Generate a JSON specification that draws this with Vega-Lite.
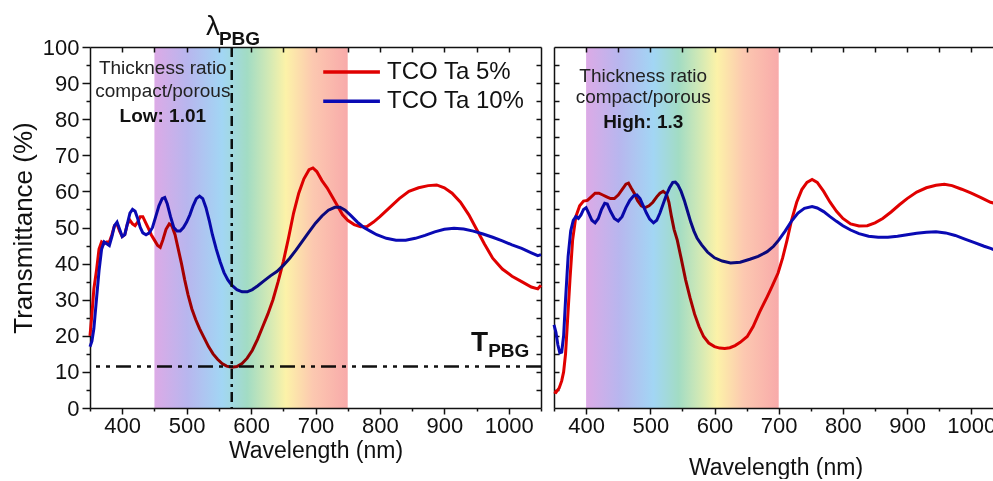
{
  "$schema": "https://vega.github.io/schema/vega-lite/v6.json",
  "background": "white",
  "padding": {"left": 10, "top": 13, "right": 0, "bottom": 0},
  "config": {
    "font": "Liberation Sans",
    "view": {"stroke": null},
    "axis": {"grid": false, "domainColor": "#111", "domainWidth": 1.5, "tickColor": "#111", "tickWidth": 1.5, "labelColor": "#111", "labelFont": "Liberation Sans", "labelFontSize": 22, "labelFlush": false, "labelOverlap": false, "titleColor": "#111", "titleFont": "Liberation Sans", "titleFontWeight": "normal"}
  },
  "datasets": {
    "low": [
      {"wl":350,"T":20,"s":"TCO Ta 5%"},{"wl":353,"T":26,"s":"TCO Ta 5%"},{"wl":356,"T":33,"s":"TCO Ta 5%"},{"wl":360,"T":38,"s":"TCO Ta 5%"},{"wl":364,"T":44,"s":"TCO Ta 5%"},{"wl":368,"T":46,"s":"TCO Ta 5%"},{"wl":372,"T":45.5,"s":"TCO Ta 5%"},{"wl":376,"T":46,"s":"TCO Ta 5%"},{"wl":380,"T":46,"s":"TCO Ta 5%"},{"wl":384,"T":48,"s":"TCO Ta 5%"},{"wl":388,"T":50.5,"s":"TCO Ta 5%"},{"wl":392,"T":51,"s":"TCO Ta 5%"},{"wl":396,"T":49,"s":"TCO Ta 5%"},{"wl":400,"T":47.5,"s":"TCO Ta 5%"},{"wl":404,"T":48,"s":"TCO Ta 5%"},{"wl":408,"T":51,"s":"TCO Ta 5%"},{"wl":412,"T":52,"s":"TCO Ta 5%"},{"wl":416,"T":51,"s":"TCO Ta 5%"},{"wl":420,"T":50.5,"s":"TCO Ta 5%"},{"wl":424,"T":51.5,"s":"TCO Ta 5%"},{"wl":428,"T":53,"s":"TCO Ta 5%"},{"wl":432,"T":53,"s":"TCO Ta 5%"},{"wl":436,"T":51.5,"s":"TCO Ta 5%"},{"wl":440,"T":50,"s":"TCO Ta 5%"},{"wl":445,"T":48,"s":"TCO Ta 5%"},{"wl":450,"T":46.5,"s":"TCO Ta 5%"},{"wl":455,"T":45,"s":"TCO Ta 5%"},{"wl":459,"T":44.5,"s":"TCO Ta 5%"},{"wl":463,"T":46.5,"s":"TCO Ta 5%"},{"wl":468,"T":49.5,"s":"TCO Ta 5%"},{"wl":473,"T":51,"s":"TCO Ta 5%"},{"wl":477,"T":50.5,"s":"TCO Ta 5%"},{"wl":482,"T":48,"s":"TCO Ta 5%"},{"wl":487,"T":44,"s":"TCO Ta 5%"},{"wl":492,"T":40,"s":"TCO Ta 5%"},{"wl":497,"T":35.5,"s":"TCO Ta 5%"},{"wl":502,"T":31.5,"s":"TCO Ta 5%"},{"wl":508,"T":27.5,"s":"TCO Ta 5%"},{"wl":514,"T":24.5,"s":"TCO Ta 5%"},{"wl":520,"T":22,"s":"TCO Ta 5%"},{"wl":527,"T":19.5,"s":"TCO Ta 5%"},{"wl":534,"T":17,"s":"TCO Ta 5%"},{"wl":541,"T":15,"s":"TCO Ta 5%"},{"wl":548,"T":13.5,"s":"TCO Ta 5%"},{"wl":555,"T":12.3,"s":"TCO Ta 5%"},{"wl":562,"T":11.6,"s":"TCO Ta 5%"},{"wl":570,"T":11.3,"s":"TCO Ta 5%"},{"wl":578,"T":11.5,"s":"TCO Ta 5%"},{"wl":586,"T":12.3,"s":"TCO Ta 5%"},{"wl":594,"T":13.8,"s":"TCO Ta 5%"},{"wl":602,"T":16,"s":"TCO Ta 5%"},{"wl":610,"T":19,"s":"TCO Ta 5%"},{"wl":618,"T":22.5,"s":"TCO Ta 5%"},{"wl":626,"T":26,"s":"TCO Ta 5%"},{"wl":634,"T":30,"s":"TCO Ta 5%"},{"wl":642,"T":35,"s":"TCO Ta 5%"},{"wl":650,"T":40.5,"s":"TCO Ta 5%"},{"wl":658,"T":47,"s":"TCO Ta 5%"},{"wl":666,"T":54,"s":"TCO Ta 5%"},{"wl":674,"T":59.5,"s":"TCO Ta 5%"},{"wl":682,"T":63.5,"s":"TCO Ta 5%"},{"wl":690,"T":66,"s":"TCO Ta 5%"},{"wl":696,"T":66.5,"s":"TCO Ta 5%"},{"wl":702,"T":65.5,"s":"TCO Ta 5%"},{"wl":710,"T":63,"s":"TCO Ta 5%"},{"wl":718,"T":61,"s":"TCO Ta 5%"},{"wl":726,"T":58.5,"s":"TCO Ta 5%"},{"wl":734,"T":56,"s":"TCO Ta 5%"},{"wl":742,"T":53.5,"s":"TCO Ta 5%"},{"wl":750,"T":52,"s":"TCO Ta 5%"},{"wl":760,"T":50.8,"s":"TCO Ta 5%"},{"wl":770,"T":50.2,"s":"TCO Ta 5%"},{"wl":780,"T":50.3,"s":"TCO Ta 5%"},{"wl":790,"T":51.5,"s":"TCO Ta 5%"},{"wl":800,"T":53,"s":"TCO Ta 5%"},{"wl":815,"T":55.5,"s":"TCO Ta 5%"},{"wl":830,"T":58,"s":"TCO Ta 5%"},{"wl":845,"T":60,"s":"TCO Ta 5%"},{"wl":860,"T":61,"s":"TCO Ta 5%"},{"wl":875,"T":61.6,"s":"TCO Ta 5%"},{"wl":888,"T":61.8,"s":"TCO Ta 5%"},{"wl":900,"T":61,"s":"TCO Ta 5%"},{"wl":912,"T":59.5,"s":"TCO Ta 5%"},{"wl":925,"T":57,"s":"TCO Ta 5%"},{"wl":938,"T":53.5,"s":"TCO Ta 5%"},{"wl":950,"T":49.5,"s":"TCO Ta 5%"},{"wl":962,"T":45.5,"s":"TCO Ta 5%"},{"wl":975,"T":41.5,"s":"TCO Ta 5%"},{"wl":990,"T":38.5,"s":"TCO Ta 5%"},{"wl":1005,"T":36.5,"s":"TCO Ta 5%"},{"wl":1020,"T":35,"s":"TCO Ta 5%"},{"wl":1035,"T":33.5,"s":"TCO Ta 5%"},{"wl":1045,"T":33,"s":"TCO Ta 5%"},{"wl":1050,"T":34,"s":"TCO Ta 5%"},
      {"wl":350,"T":17,"s":"TCO Ta 10%"},{"wl":353,"T":18.5,"s":"TCO Ta 10%"},{"wl":356,"T":22,"s":"TCO Ta 10%"},{"wl":360,"T":30,"s":"TCO Ta 10%"},{"wl":364,"T":38,"s":"TCO Ta 10%"},{"wl":368,"T":44,"s":"TCO Ta 10%"},{"wl":372,"T":46,"s":"TCO Ta 10%"},{"wl":376,"T":45.5,"s":"TCO Ta 10%"},{"wl":380,"T":45,"s":"TCO Ta 10%"},{"wl":384,"T":47.5,"s":"TCO Ta 10%"},{"wl":388,"T":50.5,"s":"TCO Ta 10%"},{"wl":392,"T":51.5,"s":"TCO Ta 10%"},{"wl":396,"T":49.5,"s":"TCO Ta 10%"},{"wl":400,"T":47.5,"s":"TCO Ta 10%"},{"wl":404,"T":48,"s":"TCO Ta 10%"},{"wl":408,"T":51,"s":"TCO Ta 10%"},{"wl":412,"T":54,"s":"TCO Ta 10%"},{"wl":416,"T":55,"s":"TCO Ta 10%"},{"wl":420,"T":54.5,"s":"TCO Ta 10%"},{"wl":424,"T":52.5,"s":"TCO Ta 10%"},{"wl":428,"T":50,"s":"TCO Ta 10%"},{"wl":432,"T":48.5,"s":"TCO Ta 10%"},{"wl":437,"T":48,"s":"TCO Ta 10%"},{"wl":442,"T":48.5,"s":"TCO Ta 10%"},{"wl":447,"T":50,"s":"TCO Ta 10%"},{"wl":452,"T":53,"s":"TCO Ta 10%"},{"wl":457,"T":56,"s":"TCO Ta 10%"},{"wl":462,"T":58,"s":"TCO Ta 10%"},{"wl":466,"T":58.3,"s":"TCO Ta 10%"},{"wl":470,"T":56.5,"s":"TCO Ta 10%"},{"wl":475,"T":53,"s":"TCO Ta 10%"},{"wl":480,"T":50,"s":"TCO Ta 10%"},{"wl":485,"T":49,"s":"TCO Ta 10%"},{"wl":490,"T":49,"s":"TCO Ta 10%"},{"wl":495,"T":50,"s":"TCO Ta 10%"},{"wl":500,"T":51.5,"s":"TCO Ta 10%"},{"wl":505,"T":53.5,"s":"TCO Ta 10%"},{"wl":510,"T":56,"s":"TCO Ta 10%"},{"wl":515,"T":58,"s":"TCO Ta 10%"},{"wl":520,"T":58.7,"s":"TCO Ta 10%"},{"wl":525,"T":58,"s":"TCO Ta 10%"},{"wl":530,"T":55.5,"s":"TCO Ta 10%"},{"wl":535,"T":52,"s":"TCO Ta 10%"},{"wl":540,"T":48,"s":"TCO Ta 10%"},{"wl":546,"T":44,"s":"TCO Ta 10%"},{"wl":552,"T":40.5,"s":"TCO Ta 10%"},{"wl":558,"T":37.5,"s":"TCO Ta 10%"},{"wl":564,"T":35.5,"s":"TCO Ta 10%"},{"wl":570,"T":34,"s":"TCO Ta 10%"},{"wl":578,"T":32.8,"s":"TCO Ta 10%"},{"wl":586,"T":32.2,"s":"TCO Ta 10%"},{"wl":594,"T":32.2,"s":"TCO Ta 10%"},{"wl":602,"T":32.8,"s":"TCO Ta 10%"},{"wl":610,"T":33.8,"s":"TCO Ta 10%"},{"wl":620,"T":35.2,"s":"TCO Ta 10%"},{"wl":630,"T":36.6,"s":"TCO Ta 10%"},{"wl":640,"T":37.8,"s":"TCO Ta 10%"},{"wl":650,"T":39.5,"s":"TCO Ta 10%"},{"wl":660,"T":41.5,"s":"TCO Ta 10%"},{"wl":670,"T":43.8,"s":"TCO Ta 10%"},{"wl":680,"T":46.3,"s":"TCO Ta 10%"},{"wl":690,"T":48.8,"s":"TCO Ta 10%"},{"wl":700,"T":51.2,"s":"TCO Ta 10%"},{"wl":710,"T":53.2,"s":"TCO Ta 10%"},{"wl":720,"T":54.8,"s":"TCO Ta 10%"},{"wl":730,"T":55.6,"s":"TCO Ta 10%"},{"wl":738,"T":55.6,"s":"TCO Ta 10%"},{"wl":746,"T":54.8,"s":"TCO Ta 10%"},{"wl":755,"T":53.3,"s":"TCO Ta 10%"},{"wl":765,"T":51.5,"s":"TCO Ta 10%"},{"wl":775,"T":50,"s":"TCO Ta 10%"},{"wl":785,"T":49,"s":"TCO Ta 10%"},{"wl":795,"T":48,"s":"TCO Ta 10%"},{"wl":810,"T":47,"s":"TCO Ta 10%"},{"wl":825,"T":46.5,"s":"TCO Ta 10%"},{"wl":840,"T":46.5,"s":"TCO Ta 10%"},{"wl":855,"T":47,"s":"TCO Ta 10%"},{"wl":870,"T":47.8,"s":"TCO Ta 10%"},{"wl":885,"T":48.8,"s":"TCO Ta 10%"},{"wl":900,"T":49.5,"s":"TCO Ta 10%"},{"wl":915,"T":49.8,"s":"TCO Ta 10%"},{"wl":930,"T":49.6,"s":"TCO Ta 10%"},{"wl":945,"T":49,"s":"TCO Ta 10%"},{"wl":960,"T":48.2,"s":"TCO Ta 10%"},{"wl":975,"T":47.3,"s":"TCO Ta 10%"},{"wl":990,"T":46.3,"s":"TCO Ta 10%"},{"wl":1005,"T":45.2,"s":"TCO Ta 10%"},{"wl":1020,"T":44.2,"s":"TCO Ta 10%"},{"wl":1035,"T":43,"s":"TCO Ta 10%"},{"wl":1045,"T":42.2,"s":"TCO Ta 10%"},{"wl":1050,"T":42.5,"s":"TCO Ta 10%"}
    ],
    "high": [
      {"wl":350,"T":4.5,"s":"TCO Ta 5%"},{"wl":353,"T":4.3,"s":"TCO Ta 5%"},{"wl":358,"T":5.5,"s":"TCO Ta 5%"},{"wl":362,"T":7.5,"s":"TCO Ta 5%"},{"wl":365,"T":10,"s":"TCO Ta 5%"},{"wl":368,"T":15,"s":"TCO Ta 5%"},{"wl":371,"T":24,"s":"TCO Ta 5%"},{"wl":375,"T":36,"s":"TCO Ta 5%"},{"wl":379,"T":46.5,"s":"TCO Ta 5%"},{"wl":384,"T":53,"s":"TCO Ta 5%"},{"wl":390,"T":56,"s":"TCO Ta 5%"},{"wl":396,"T":57.3,"s":"TCO Ta 5%"},{"wl":402,"T":57.5,"s":"TCO Ta 5%"},{"wl":408,"T":58.5,"s":"TCO Ta 5%"},{"wl":414,"T":59.5,"s":"TCO Ta 5%"},{"wl":420,"T":59.5,"s":"TCO Ta 5%"},{"wl":426,"T":59,"s":"TCO Ta 5%"},{"wl":432,"T":58.5,"s":"TCO Ta 5%"},{"wl":438,"T":58,"s":"TCO Ta 5%"},{"wl":444,"T":58,"s":"TCO Ta 5%"},{"wl":450,"T":59,"s":"TCO Ta 5%"},{"wl":456,"T":60.5,"s":"TCO Ta 5%"},{"wl":462,"T":62,"s":"TCO Ta 5%"},{"wl":466,"T":62.3,"s":"TCO Ta 5%"},{"wl":470,"T":61,"s":"TCO Ta 5%"},{"wl":475,"T":59.5,"s":"TCO Ta 5%"},{"wl":480,"T":57.5,"s":"TCO Ta 5%"},{"wl":486,"T":56,"s":"TCO Ta 5%"},{"wl":492,"T":55.5,"s":"TCO Ta 5%"},{"wl":498,"T":56,"s":"TCO Ta 5%"},{"wl":504,"T":57,"s":"TCO Ta 5%"},{"wl":510,"T":58.5,"s":"TCO Ta 5%"},{"wl":515,"T":59.5,"s":"TCO Ta 5%"},{"wl":520,"T":60,"s":"TCO Ta 5%"},{"wl":525,"T":59.3,"s":"TCO Ta 5%"},{"wl":529,"T":57,"s":"TCO Ta 5%"},{"wl":533,"T":53,"s":"TCO Ta 5%"},{"wl":537,"T":49.5,"s":"TCO Ta 5%"},{"wl":542,"T":46.5,"s":"TCO Ta 5%"},{"wl":548,"T":41.5,"s":"TCO Ta 5%"},{"wl":555,"T":35.5,"s":"TCO Ta 5%"},{"wl":562,"T":30.5,"s":"TCO Ta 5%"},{"wl":569,"T":26,"s":"TCO Ta 5%"},{"wl":576,"T":22.5,"s":"TCO Ta 5%"},{"wl":583,"T":19.8,"s":"TCO Ta 5%"},{"wl":591,"T":18,"s":"TCO Ta 5%"},{"wl":600,"T":17,"s":"TCO Ta 5%"},{"wl":608,"T":16.6,"s":"TCO Ta 5%"},{"wl":616,"T":16.5,"s":"TCO Ta 5%"},{"wl":624,"T":16.7,"s":"TCO Ta 5%"},{"wl":632,"T":17.3,"s":"TCO Ta 5%"},{"wl":640,"T":18.2,"s":"TCO Ta 5%"},{"wl":651,"T":19.8,"s":"TCO Ta 5%"},{"wl":660,"T":22.5,"s":"TCO Ta 5%"},{"wl":670,"T":26.5,"s":"TCO Ta 5%"},{"wl":682,"T":30.8,"s":"TCO Ta 5%"},{"wl":690,"T":33.8,"s":"TCO Ta 5%"},{"wl":699,"T":37.4,"s":"TCO Ta 5%"},{"wl":706,"T":41.5,"s":"TCO Ta 5%"},{"wl":713,"T":46.5,"s":"TCO Ta 5%"},{"wl":720,"T":52,"s":"TCO Ta 5%"},{"wl":728,"T":57,"s":"TCO Ta 5%"},{"wl":736,"T":60.5,"s":"TCO Ta 5%"},{"wl":744,"T":62.5,"s":"TCO Ta 5%"},{"wl":752,"T":63.3,"s":"TCO Ta 5%"},{"wl":760,"T":62.5,"s":"TCO Ta 5%"},{"wl":770,"T":60,"s":"TCO Ta 5%"},{"wl":780,"T":57,"s":"TCO Ta 5%"},{"wl":790,"T":54.5,"s":"TCO Ta 5%"},{"wl":800,"T":52.5,"s":"TCO Ta 5%"},{"wl":812,"T":51,"s":"TCO Ta 5%"},{"wl":825,"T":50.4,"s":"TCO Ta 5%"},{"wl":838,"T":50.5,"s":"TCO Ta 5%"},{"wl":850,"T":51.3,"s":"TCO Ta 5%"},{"wl":862,"T":52.5,"s":"TCO Ta 5%"},{"wl":875,"T":54.3,"s":"TCO Ta 5%"},{"wl":888,"T":56.3,"s":"TCO Ta 5%"},{"wl":900,"T":58,"s":"TCO Ta 5%"},{"wl":915,"T":59.8,"s":"TCO Ta 5%"},{"wl":930,"T":61,"s":"TCO Ta 5%"},{"wl":945,"T":61.7,"s":"TCO Ta 5%"},{"wl":958,"T":62,"s":"TCO Ta 5%"},{"wl":970,"T":61.6,"s":"TCO Ta 5%"},{"wl":985,"T":60.6,"s":"TCO Ta 5%"},{"wl":1000,"T":59.5,"s":"TCO Ta 5%"},{"wl":1015,"T":58.3,"s":"TCO Ta 5%"},{"wl":1030,"T":57,"s":"TCO Ta 5%"},{"wl":1040,"T":56.5,"s":"TCO Ta 5%"},
      {"wl":350,"T":23,"s":"TCO Ta 10%"},{"wl":353,"T":21,"s":"TCO Ta 10%"},{"wl":356,"T":17.5,"s":"TCO Ta 10%"},{"wl":359,"T":15.3,"s":"TCO Ta 10%"},{"wl":362,"T":15.5,"s":"TCO Ta 10%"},{"wl":365,"T":20,"s":"TCO Ta 10%"},{"wl":368,"T":30,"s":"TCO Ta 10%"},{"wl":372,"T":42,"s":"TCO Ta 10%"},{"wl":376,"T":49,"s":"TCO Ta 10%"},{"wl":380,"T":52,"s":"TCO Ta 10%"},{"wl":384,"T":53,"s":"TCO Ta 10%"},{"wl":388,"T":52.5,"s":"TCO Ta 10%"},{"wl":392,"T":53.5,"s":"TCO Ta 10%"},{"wl":396,"T":55,"s":"TCO Ta 10%"},{"wl":400,"T":55.5,"s":"TCO Ta 10%"},{"wl":404,"T":54,"s":"TCO Ta 10%"},{"wl":409,"T":52,"s":"TCO Ta 10%"},{"wl":414,"T":51.3,"s":"TCO Ta 10%"},{"wl":419,"T":52.5,"s":"TCO Ta 10%"},{"wl":424,"T":55,"s":"TCO Ta 10%"},{"wl":429,"T":56.7,"s":"TCO Ta 10%"},{"wl":433,"T":56.5,"s":"TCO Ta 10%"},{"wl":438,"T":54.5,"s":"TCO Ta 10%"},{"wl":444,"T":52.5,"s":"TCO Ta 10%"},{"wl":450,"T":51.8,"s":"TCO Ta 10%"},{"wl":456,"T":53,"s":"TCO Ta 10%"},{"wl":462,"T":55.5,"s":"TCO Ta 10%"},{"wl":468,"T":57.5,"s":"TCO Ta 10%"},{"wl":474,"T":58.8,"s":"TCO Ta 10%"},{"wl":479,"T":59,"s":"TCO Ta 10%"},{"wl":484,"T":58,"s":"TCO Ta 10%"},{"wl":489,"T":56,"s":"TCO Ta 10%"},{"wl":494,"T":54,"s":"TCO Ta 10%"},{"wl":499,"T":52.3,"s":"TCO Ta 10%"},{"wl":505,"T":51.3,"s":"TCO Ta 10%"},{"wl":510,"T":52,"s":"TCO Ta 10%"},{"wl":515,"T":54,"s":"TCO Ta 10%"},{"wl":520,"T":56.5,"s":"TCO Ta 10%"},{"wl":525,"T":59,"s":"TCO Ta 10%"},{"wl":530,"T":61,"s":"TCO Ta 10%"},{"wl":535,"T":62.5,"s":"TCO Ta 10%"},{"wl":539,"T":62.6,"s":"TCO Ta 10%"},{"wl":543,"T":61.8,"s":"TCO Ta 10%"},{"wl":548,"T":60,"s":"TCO Ta 10%"},{"wl":553,"T":57.5,"s":"TCO Ta 10%"},{"wl":558,"T":54.5,"s":"TCO Ta 10%"},{"wl":563,"T":51.5,"s":"TCO Ta 10%"},{"wl":568,"T":49,"s":"TCO Ta 10%"},{"wl":573,"T":47,"s":"TCO Ta 10%"},{"wl":580,"T":45.2,"s":"TCO Ta 10%"},{"wl":589,"T":43.2,"s":"TCO Ta 10%"},{"wl":600,"T":41.6,"s":"TCO Ta 10%"},{"wl":612,"T":40.7,"s":"TCO Ta 10%"},{"wl":625,"T":40.2,"s":"TCO Ta 10%"},{"wl":640,"T":40.4,"s":"TCO Ta 10%"},{"wl":655,"T":41.2,"s":"TCO Ta 10%"},{"wl":668,"T":42,"s":"TCO Ta 10%"},{"wl":682,"T":43.3,"s":"TCO Ta 10%"},{"wl":692,"T":44.8,"s":"TCO Ta 10%"},{"wl":700,"T":46.5,"s":"TCO Ta 10%"},{"wl":710,"T":49,"s":"TCO Ta 10%"},{"wl":720,"T":51.8,"s":"TCO Ta 10%"},{"wl":730,"T":54,"s":"TCO Ta 10%"},{"wl":740,"T":55.3,"s":"TCO Ta 10%"},{"wl":752,"T":55.8,"s":"TCO Ta 10%"},{"wl":760,"T":55.4,"s":"TCO Ta 10%"},{"wl":770,"T":54.4,"s":"TCO Ta 10%"},{"wl":780,"T":53,"s":"TCO Ta 10%"},{"wl":790,"T":51.7,"s":"TCO Ta 10%"},{"wl":800,"T":50.5,"s":"TCO Ta 10%"},{"wl":812,"T":49.3,"s":"TCO Ta 10%"},{"wl":825,"T":48.3,"s":"TCO Ta 10%"},{"wl":840,"T":47.6,"s":"TCO Ta 10%"},{"wl":855,"T":47.3,"s":"TCO Ta 10%"},{"wl":870,"T":47.3,"s":"TCO Ta 10%"},{"wl":885,"T":47.6,"s":"TCO Ta 10%"},{"wl":900,"T":48,"s":"TCO Ta 10%"},{"wl":915,"T":48.4,"s":"TCO Ta 10%"},{"wl":930,"T":48.7,"s":"TCO Ta 10%"},{"wl":945,"T":48.8,"s":"TCO Ta 10%"},{"wl":960,"T":48.5,"s":"TCO Ta 10%"},{"wl":975,"T":47.8,"s":"TCO Ta 10%"},{"wl":990,"T":46.8,"s":"TCO Ta 10%"},{"wl":1005,"T":45.8,"s":"TCO Ta 10%"},{"wl":1020,"T":44.8,"s":"TCO Ta 10%"},{"wl":1030,"T":44.2,"s":"TCO Ta 10%"},{"wl":1040,"T":43.5,"s":"TCO Ta 10%"}
    ]
  },
  "bounds": "flush",
  "spacing": 13,
  "hconcat": [
    {
      "width": 451,
      "height": 361,
      "resolve": {"axis": {"x": "independent", "y": "independent"}},
      "layer": [
        {
          "data": {"name": "low"},
          "mark": {"type": "line", "strokeWidth": 3},
          "encoding": {
            "x": {"field": "wl", "type": "quantitative", "scale": {"domain": [350, 1050], "nice": false, "zero": false}, "axis": {"orient": "bottom", "values": [350, 450, 550, 650, 750, 850, 950, 1050], "tickSize": 3, "labels": false, "domain": false, "title": null}},
            "y": {"field": "T", "type": "quantitative", "scale": {"domain": [0, 100], "nice": false}, "axis": {"orient": "left", "values": [0, 10, 20, 30, 40, 50, 60, 70, 80, 90, 100], "tickSize": 8, "labelPadding": 3, "title": "Transmittance (%)", "titleFontSize": 26, "titlePadding": 6}},
            "color": {"field": "s", "type": "nominal", "scale": {"domain": ["TCO Ta 5%", "TCO Ta 10%"], "range": ["#e00000", "#0a0ab4"]}, "legend": null},
            "detail": {"field": "s"}
          }
        },
        {
          "data": {"values": [{"T": 11.5}]},
          "mark": {"type": "rule", "strokeWidth": 2.5, "color": "#111", "strokeDash": [15, 6, 4, 6, 4, 6]},
          "encoding": {
            "y": {"field": "T", "type": "quantitative", "scale": {"domain": [0, 100], "nice": false}, "axis": {"orient": "left", "values": [5, 15, 25, 35, 45, 55, 65, 75, 85, 95], "tickSize": 4, "labels": false, "domain": false, "title": null}}
          }
        },
        {
          "data": {"values": [{"wl": 570}]},
          "mark": {"type": "rule", "strokeWidth": 2.5, "color": "#111", "strokeDash": [10, 5, 3, 5]},
          "encoding": {
            "x": {"field": "wl", "type": "quantitative", "scale": {"domain": [350, 1050], "nice": false, "zero": false}, "axis": {"orient": "top", "values": [400, 450, 500, 550, 600, 650, 700, 750, 800, 850, 900, 950, 1000], "tickSize": -5, "labels": false, "title": null}}
          }
        },
        {
          "data": {"values": [{"a": 450, "b": 750}]},
          "mark": {"type": "rect", "blend": "multiply", "color": {"gradient": "linear", "stops": [{"offset": 0, "color": "#dcaae6"}, {"offset": 0.17, "color": "#b8b6ee"}, {"offset": 0.35, "color": "#a2d6f4"}, {"offset": 0.48, "color": "#a2dcc4"}, {"offset": 0.6, "color": "#d6eab4"}, {"offset": 0.68, "color": "#fcf2a8"}, {"offset": 0.82, "color": "#fcc8b0"}, {"offset": 1, "color": "#f8aaaa"}]}},
          "encoding": {
            "x": {"field": "a", "type": "quantitative", "scale": {"domain": [350, 1050], "nice": false, "zero": false}, "axis": {"orient": "bottom", "values": [400, 500, 600, 700, 800, 900, 1000], "format": "d", "tickSize": 6, "labelPadding": 1, "title": "Wavelength (nm)", "titleFontSize": 23, "titlePadding": 3}},
            "x2": {"field": "b"}
          }
        },
        {
          "data": {"values": [{"x1": 712, "x2": 800, "y": 93.1, "s": "TCO Ta 5%"}, {"x1": 712, "x2": 800, "y": 85, "s": "TCO Ta 10%"}]},
          "mark": {"type": "rule", "strokeWidth": 3.5},
          "encoding": {
            "x": {"field": "x1", "type": "quantitative", "scale": {"domain": [350, 1050], "nice": false, "zero": false}, "axis": null},
            "x2": {"field": "x2"},
            "y": {"field": "y", "type": "quantitative", "scale": {"domain": [0, 100], "nice": false}, "axis": {"orient": "right", "values": [5, 10, 15, 20, 25, 30, 35, 40, 45, 50, 55, 60, 65, 70, 75, 80, 85, 90, 95], "tickSize": -5, "labels": false, "title": null}},
            "color": {"field": "s", "type": "nominal", "scale": {"domain": ["TCO Ta 5%", "TCO Ta 10%"], "range": ["#e00000", "#0a0ab4"]}, "legend": null}
          }
        },
        {
          "data": {"values": [{"x": 811, "y": 93.1, "t": "TCO Ta 5%"}, {"x": 811, "y": 85, "t": "TCO Ta 10%"}]},
          "mark": {"type": "text", "align": "left", "baseline": "middle", "fontSize": 24, "color": "#111"},
          "encoding": {
            "x": {"field": "x", "type": "quantitative", "scale": {"domain": [350, 1050], "nice": false, "zero": false}, "axis": null},
            "y": {"field": "y", "type": "quantitative", "scale": {"domain": [0, 100], "nice": false}, "axis": null},
            "text": {"field": "t"}
          }
        },
        {
          "data": {"values": [{"x": 463, "y": 92.5, "t": "Thickness ratio"}, {"x": 463, "y": 86.1, "t": "compact/porous"}]},
          "mark": {"type": "text", "align": "center", "baseline": "alphabetic", "fontSize": 19, "color": "#222"},
          "encoding": {
            "x": {"field": "x", "type": "quantitative", "scale": {"domain": [350, 1050], "nice": false, "zero": false}, "axis": null},
            "y": {"field": "y", "type": "quantitative", "scale": {"domain": [0, 100], "nice": false}, "axis": null},
            "text": {"field": "t"}
          }
        },
        {
          "data": {"values": [{"x": 463, "y": 79.2, "t": "Low: 1.01"}, {"x": 582, "y": 100.55, "t": "PBG"}, {"x": 1000, "y": 14.1, "t": "PBG"}]},
          "mark": {"type": "text", "align": "center", "baseline": "alphabetic", "fontSize": 19, "fontWeight": "bold", "color": "#111"},
          "encoding": {
            "x": {"field": "x", "type": "quantitative", "scale": {"domain": [350, 1050], "nice": false, "zero": false}, "axis": null},
            "y": {"field": "y", "type": "quantitative", "scale": {"domain": [0, 100], "nice": false}, "axis": null},
            "text": {"field": "t"}
          }
        },
        {
          "data": {"values": [{"x": 541, "y": 103.3, "t": "λ"}]},
          "mark": {"type": "text", "align": "center", "baseline": "alphabetic", "fontSize": 28, "color": "#111"},
          "encoding": {
            "x": {"field": "x", "type": "quantitative", "scale": {"domain": [350, 1050], "nice": false, "zero": false}, "axis": null},
            "y": {"field": "y", "type": "quantitative", "scale": {"domain": [0, 100], "nice": false}, "axis": null},
            "text": {"field": "t"}
          }
        },
        {
          "data": {"values": [{"x": 968, "y": 15.8, "t": "T"}]},
          "mark": {"type": "text", "align": "right", "baseline": "alphabetic", "fontSize": 28, "fontWeight": "bold", "color": "#111"},
          "encoding": {
            "x": {"field": "x", "type": "quantitative", "scale": {"domain": [350, 1050], "nice": false, "zero": false}, "axis": null},
            "y": {"field": "y", "type": "quantitative", "scale": {"domain": [0, 100], "nice": false}, "axis": null},
            "text": {"field": "t"}
          }
        }
      ]
    },
    {
      "width": 443,
      "height": 361,
      "resolve": {"axis": {"x": "independent", "y": "independent"}},
      "layer": [
        {
          "data": {"name": "high"},
          "mark": {"type": "line", "strokeWidth": 3},
          "encoding": {
            "x": {"field": "wl", "type": "quantitative", "scale": {"domain": [350, 1040], "nice": false, "zero": false}, "axis": {"orient": "bottom", "values": [350, 450, 550, 650, 750, 850, 950], "tickSize": 3, "labels": false, "domain": false, "title": null}},
            "y": {"field": "T", "type": "quantitative", "scale": {"domain": [0, 100], "nice": false}, "axis": {"orient": "left", "values": [5, 10, 15, 20, 25, 30, 35, 40, 45, 50, 55, 60, 65, 70, 75, 80, 85, 90, 95], "tickSize": -5, "labels": false, "title": null}},
            "color": {"field": "s", "type": "nominal", "scale": {"domain": ["TCO Ta 5%", "TCO Ta 10%"], "range": ["#e00000", "#0a0ab4"]}, "legend": null},
            "detail": {"field": "s"}
          }
        },
        {
          "data": {"values": [{"a": 400, "b": 700}]},
          "mark": {"type": "rect", "blend": "multiply", "color": {"gradient": "linear", "stops": [{"offset": 0, "color": "#dcaae6"}, {"offset": 0.17, "color": "#b8b6ee"}, {"offset": 0.35, "color": "#a2d6f4"}, {"offset": 0.48, "color": "#a2dcc4"}, {"offset": 0.6, "color": "#d6eab4"}, {"offset": 0.68, "color": "#fcf2a8"}, {"offset": 0.82, "color": "#fcc8b0"}, {"offset": 1, "color": "#f8aaaa"}]}},
          "encoding": {
            "x": {"field": "a", "type": "quantitative", "scale": {"domain": [350, 1040], "nice": false, "zero": false}, "axis": {"orient": "bottom", "values": [400, 500, 600, 700, 800, 900, 1000], "format": "d", "tickSize": 6, "labelPadding": 1, "title": "Wavelength (nm)", "titleFontSize": 23, "titlePadding": 20}},
            "x2": {"field": "b"}
          }
        },
        {
          "data": {"values": [{"x": 489, "y": 90.3, "t": "Thickness ratio"}, {"x": 489, "y": 84.5, "t": "compact/porous"}]},
          "mark": {"type": "text", "align": "center", "baseline": "alphabetic", "fontSize": 19, "color": "#222"},
          "encoding": {
            "x": {"field": "x", "type": "quantitative", "scale": {"domain": [350, 1040], "nice": false, "zero": false}, "axis": {"orient": "top", "values": [400, 450, 500, 550, 600, 650, 700, 750, 800, 850, 900, 950, 1000], "tickSize": -5, "labels": false, "title": null}},
            "y": {"field": "y", "type": "quantitative", "scale": {"domain": [0, 100], "nice": false}, "axis": null},
            "text": {"field": "t"}
          }
        },
        {
          "data": {"values": [{"x": 489, "y": 77.6, "t": "High: 1.3"}]},
          "mark": {"type": "text", "align": "center", "baseline": "alphabetic", "fontSize": 19, "fontWeight": "bold", "color": "#111"},
          "encoding": {
            "x": {"field": "x", "type": "quantitative", "scale": {"domain": [350, 1040], "nice": false, "zero": false}, "axis": null},
            "y": {"field": "y", "type": "quantitative", "scale": {"domain": [0, 100], "nice": false}, "axis": null},
            "text": {"field": "t"}
          }
        }
      ]
    }
  ]
}
